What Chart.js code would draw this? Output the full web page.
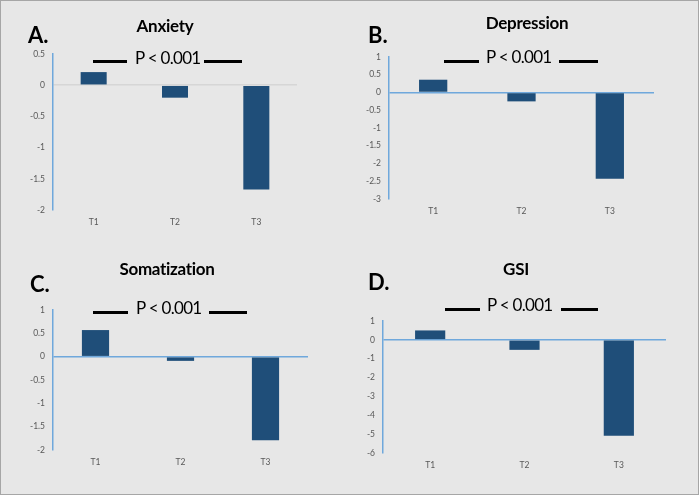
<!DOCTYPE html>
<html>
<head>
<meta charset="utf-8">
<script src="https://cdn.jsdelivr.net/npm/chart.js@4"></script>
<style>
  html, body { margin: 0; padding: 0; }
  body { width: 699px; height: 495px; overflow: hidden; }
  #fig { position: relative; width: 697px; height: 493px; background: #e7e7e7; border: 1px solid #a6a6a6; font-family: Lato, sans-serif; }
  .panel { position: absolute; }
  .panel canvas { position: absolute; left: 0; top: 0; }
  .letter, .title, .pval, .bar-line { position: absolute; }
  .letter { font-weight: bold; font-size: 22px; color: #000; }
  .title { font-weight: bold; font-size: 17px; letter-spacing: -0.3px; color: #000; transform: translateX(-50%); white-space: nowrap; }
  .pval { font-size: 17px; letter-spacing: -0.7px; color: #000; white-space: nowrap; }
  .bar-line { height: 3px; background: #000; }
</style>
</head>
<body>
<div id="fig"></div>
<script>
const categories = ['T1', 'T2', 'T3'];

const anxiety = [0.21, -0.2, -1.67];
const depression = [0.36, -0.25, -2.43];
const somatization = [0.57, -0.09, -1.79];
const gsi = [0.5, -0.53, -5.08];

const pLabel = 'P < 0.001';

// panel placement and plot area, in pixels inside each panel
const panels = [
  { letter: 'A.', title: 'Anxiety', data: anxiety, min: -2, max: 0.5, step: 0.5, zero: '#d6d6d6',
    box: [0, 0, 349, 247], area: [52, 53, 296, 209], letterXY: [27, 20], titleXY: [164, 14],
    pXY: [134, 46], lines: [[92, 126, 60], [203, 241, 60]] },
  { letter: 'B.', title: 'Depression', data: depression, min: -3, max: 1, step: 0.5, zero: '#6fa8dc',
    box: [349, 0, 349, 247], area: [39, 56, 304, 198], letterXY: [18, 20], titleXY: [177, 11],
    pXY: [136, 45], lines: [[94, 129, 60], [209, 248, 60]] },
  { letter: 'C.', title: 'Somatization', data: somatization, min: -2, max: 1, step: 0.5, zero: '#6fa8dc',
    box: [0, 247, 349, 247], area: [52, 62, 307, 202], letterXY: [29, 22], titleXY: [166, 10],
    pXY: [135, 49], lines: [[92, 127, 64], [208, 246, 64]] },
  { letter: 'D.', title: 'GSI', data: gsi, min: -6, max: 1, step: 1, zero: '#6fa8dc',
    box: [349, 247, 349, 247], area: [33, 73, 316, 205], letterXY: [18, 20], titleXY: [166, 10],
    pXY: [137, 46], lines: [[95, 130, 61], [211, 248, 61]] }
];

const Y_W = 30, X_H = 24;
const fig = document.getElementById('fig');

panels.forEach(p => {
  const [bx, by, bw, bh] = p.box;
  const [l, t, r, b] = p.area;
  const div = document.createElement('div');
  div.className = 'panel';
  div.style.cssText = `left:${bx}px;top:${by}px;width:${bw}px;height:${bh}px;`;
  const canvas = document.createElement('canvas');
  canvas.width = bw;
  canvas.height = bh;
  div.appendChild(canvas);

  const add = (cls, text, x, y) => {
    const el = document.createElement('div');
    el.className = cls;
    el.textContent = text;
    el.style.left = x + 'px';
    el.style.top = y + 'px';
    div.appendChild(el);
  };
  add('letter', p.letter, p.letterXY[0], p.letterXY[1]);
  add('title', p.title, p.titleXY[0], p.titleXY[1]);
  add('pval', pLabel, p.pXY[0], p.pXY[1]);
  p.lines.forEach(([x1, x2, y]) => {
    const ln = document.createElement('div');
    ln.className = 'bar-line';
    ln.style.cssText = `left:${x1}px;top:${y - 1}px;width:${x2 - x1}px;`;
    div.appendChild(ln);
  });
  fig.appendChild(div);

  new Chart(canvas.getContext('2d'), {
    type: 'bar',
    data: {
      labels: categories,
      datasets: [{ data: p.data, backgroundColor: '#1f4e79', barPercentage: 0.32, categoryPercentage: 1 }]
    },
    options: {
      responsive: false,
      animation: false,
      devicePixelRatio: 1,
      layout: { padding: { left: l - Y_W, top: t, right: bw - r, bottom: bh - b - X_H } },
      plugins: { legend: { display: false }, tooltip: { enabled: false } },
      scales: {
        x: {
          grid: { display: false, drawTicks: false },
          border: { display: false },
          afterFit: s => { s.height = X_H; },
          ticks: { color: '#595959', font: { family: 'Lato', size: 8.5 }, padding: 7 }
        },
        y: {
          min: p.min, max: p.max,
          afterFit: s => { s.width = Y_W; },
          grid: {
            drawTicks: false,
            color: c => (c.tick && c.tick.value === 0) ? p.zero : 'rgba(0,0,0,0)',
            lineWidth: 1.5
          },
          border: { display: true, color: '#6fa8dc', width: 1.5 },
          ticks: { stepSize: p.step, color: '#595959', font: { family: 'Lato', size: 8.5 }, padding: 8,
                   callback: v => String(Math.round(v * 10) / 10) }
        }
      }
    }
  });
});
</script>
</body>
</html>
